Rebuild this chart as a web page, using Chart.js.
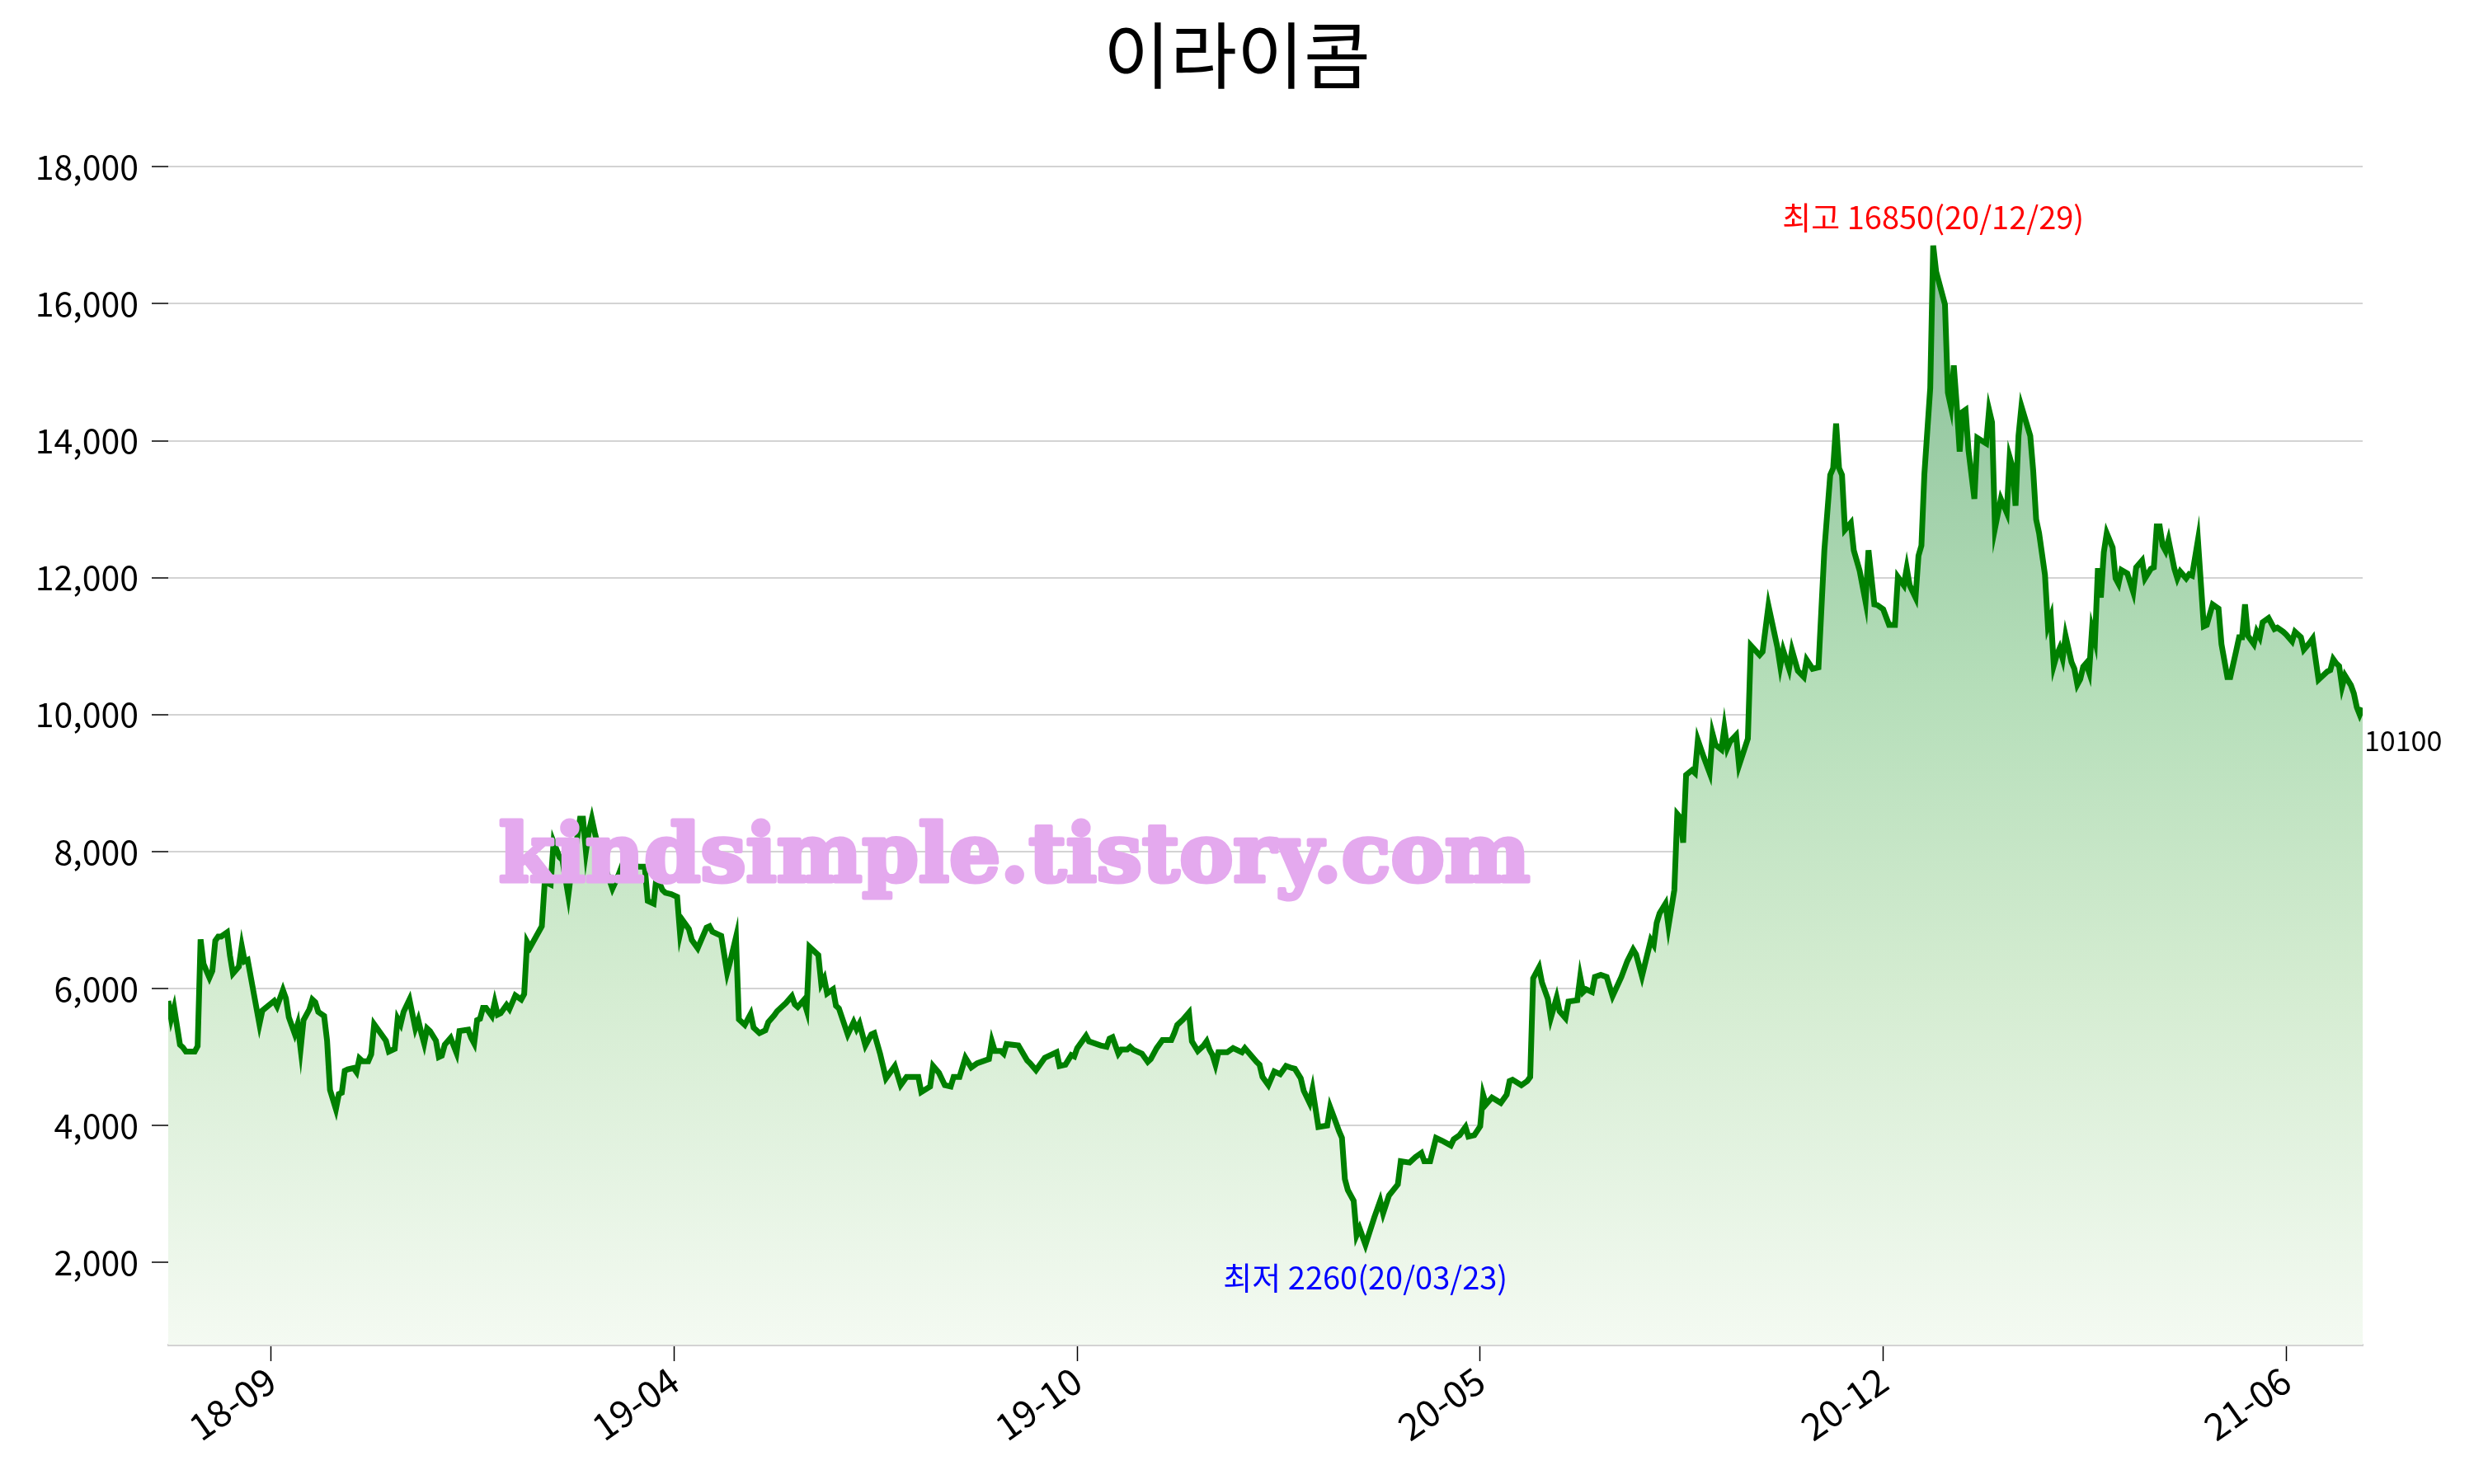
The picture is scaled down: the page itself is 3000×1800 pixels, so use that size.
<!DOCTYPE html>
<html>
<head>
<meta charset="utf-8">
<script src="https://cdn.jsdelivr.net/npm/chart.js@4.4.1/dist/chart.umd.min.js"></script>
<style>
  html, body { margin: 0; background: #fff; }
</style>
</head>
<body>
<canvas id="chart" width="3000" height="1800"></canvas>
<script>
// chart data (trading-day index -> closing price)
const title = '이라이콤';
const days = [0,1,2,4,5,6,9,10,11,12,14,15,16,17,18,20,21,22,24,25,26,27,31,32,36,37,39,40,41,43,44,45,46,48,49,50,51,53,54,55,57,58,59,60,61,63,64,65,66,68,69,70,74,75,77,78,79,80,82,84,85,86,87,88,89,91,92,93,94,96,98,99,102,103,104,105,106,107,108,110,111,112,113,115,116,118,120,121,122,123,127,128,130,131,133,134,136,137,139,140,141,142,143,144,145,146,148,151,153,155,157,160,162,163,165,166,168,169,171,173,174,175,177,178,180,183,184,185,188,190,191,193,194,196,198,199,201,203,204,206,207,210,212,213,214,216,217,218,221,222,223,224,226,227,228,231,233,234,235,237,239,240,242,244,247,249,251,255,256,259,260,262,264,266,267,269,271,273,275,279,280,281,283,284,285,289,292,293,295,298,302,303,305,307,308,309,312,313,317,319,320,321,323,324,326,327,328,331,333,334,336,338,341,342,343,345,347,348,350,352,353,354,355,356,357,360,362,365,366,370,371,372,374,376,378,380,382,383,385,386,388,389,391,394,395,397,398,399,400,401,403,404,405,407,410,411,412,413,415,418,419,422,424,426,427,429,431,433,436,437,439,441,442,444,446,447,448,450,453,455,456,457,460,462,463,464,466,467,469,470,472,473,475,476,479,480,481,482,484,485,487,489,491,494,496,498,499,501,504,505,506,507,509,510,512,513,514,515,516,518,519,520,522,524,525,526,528,529,530,531,533,534,537,538,541,542,544,547,548,549,551,552,554,556,557,559,561,563,565,566,567,568,569,570,572,573,575,577,578,580,581,583,585,587,588,590,591,592,594,595,596,597,599,600,601,604,605,606,607,608,609,610,611,612,614,615,618,619,620,621,623,625,626,627,628,629,630,633,634,635,636,638,639,640,641,642,643,644,645,647,648,649,650,651,652,653,654,655,656,657,658,659,661,662,663,664,666,668,669,671,672,674,675,676,677,678,679,680,682,683,684,686,687,688,690,692,693,695,697,698,700,701,703,704,705,706,707,709,710,711,712,714,716,717,719,720,722,723,725,726,728,729,731,734,735,736,737,738,739,740,742,743,744,745,746];
const prices = [5820,5560,5720,5180,5140,5080,5080,5160,6720,6360,6160,6260,6700,6760,6760,6820,6480,6220,6320,6620,6400,6420,5480,5680,5820,5740,5980,5860,5580,5340,5480,5120,5540,5700,5840,5800,5660,5600,5240,4520,4240,4460,4480,4800,4820,4840,4780,4980,4940,4940,5040,5480,5240,5080,5120,5560,5480,5660,5840,5420,5540,5360,5200,5420,5380,5240,5000,5020,5180,5280,5060,5380,5400,5280,5200,5540,5560,5720,5720,5600,5800,5620,5640,5760,5700,5900,5840,5920,6680,6600,6910,7560,7520,8140,7920,7880,7360,7700,8200,8480,8480,8000,8300,8480,8280,8100,7840,7460,7650,7880,7800,7780,7780,7280,7240,7640,7440,7400,7380,7340,6800,6990,6870,6710,6590,6890,6910,6830,6770,6230,6390,6750,5550,5470,5630,5430,5350,5390,5510,5610,5670,5790,5890,5770,5730,5830,5690,6610,6490,6070,6150,5930,5990,5750,5710,5330,5510,5410,5490,5170,5330,5350,5050,4690,4870,4590,4710,4710,4490,4570,4870,4770,4590,4570,4710,4710,4990,4850,4910,4970,5230,5090,5090,5050,5190,5170,4950,4910,4810,4990,5070,4870,4890,5030,5010,5130,5310,5230,5170,5150,5270,5290,5050,5110,5110,5150,5110,5050,4930,4970,5130,5250,5250,5350,5470,5550,5650,5230,5090,5170,5230,5110,5030,4890,5070,5070,5130,5070,5130,4930,4890,4710,4590,4790,4750,4870,4840,4830,4690,4510,4330,4530,3980,4000,4270,4040,3920,3820,3220,3060,2900,2400,2500,2260,2660,2780,2900,2720,2980,3140,3480,3460,3540,3600,3480,3480,3820,3780,3710,3800,3860,3980,3840,3860,3990,4450,4310,4410,4330,4450,4650,4670,4590,4650,4710,6150,6310,6090,5850,5570,5870,5670,5570,5810,5830,6170,5950,5990,5950,6170,6200,6170,5890,6170,6400,6570,6500,6180,6710,6640,6960,7100,7240,6910,7440,8550,8500,8130,9120,9190,9150,9630,9380,9150,9720,9560,9490,9810,9510,9610,9700,9260,9650,11010,10870,10920,11590,10990,10710,10940,10670,10940,10640,10550,10800,10670,10690,12400,13500,13600,14250,13600,13500,12700,12800,12400,12100,11650,12400,11610,11600,11540,11310,11310,12010,11890,12140,11890,11710,12320,12470,13510,14770,16850,16470,15990,14700,14500,15100,14520,13840,14420,14450,13860,13150,14040,13960,14450,14270,12720,13150,12950,13760,13610,13050,14070,14500,14070,13560,12850,12650,12040,11300,11430,10720,10870,10970,10820,11150,10770,10670,10440,10520,10700,10750,10620,11250,11080,12140,11710,12370,12650,12440,11990,11910,12110,12060,11790,12150,12250,11990,12130,12150,12750,12750,12470,12390,12550,12130,11990,12090,11990,12050,12030,12550,11290,11310,11610,11550,11030,10550,10550,10930,11130,11130,11610,11150,11030,11210,11130,11350,11410,11250,11270,11210,11170,11070,11210,11130,10950,11050,11110,10510,10630,10650,10810,10750,10710,10410,10570,10430,10310,10110,10000,10100];
const tickDays = [35, 172, 309, 446, 583, 720];
const tickLabels = ['18-09', '19-04', '19-10', '20-05', '20-12', '21-06'];
const yTicks = [2000, 4000, 6000, 8000, 10000, 12000, 14000, 16000, 18000];
const maxDate = '20/12/29';
const minDate = '20/03/23';
const watermark = 'kindsimple.tistory.com';

const FONT = "'Noto Sans CJK KR', 'Noto Sans', sans-serif";

const hi = Math.max(...prices);
const lo = Math.min(...prices);
const span = hi - lo;

// text labels for highest / lowest / last price + watermark
const notesPlugin = {
  id: 'notes',
  afterDatasetsDraw(chart) {
    const { ctx, chartArea: a, scales: { x, y } } = chart;
    ctx.save();

    // watermark
    ctx.fillStyle = '#e4a9ee';
    ctx.strokeStyle = '#e4a9ee';
    ctx.lineWidth = 5;
    ctx.lineJoin = 'round';
    ctx.textAlign = 'center';
    ctx.textBaseline = 'middle';
    let fs = 100;
    ctx.font = `bold ${fs}px 'DejaVu Serif', serif`;
    fs = fs * (a.right - a.left) * 0.47 / ctx.measureText(watermark).width;
    ctx.font = `bold ${fs}px 'DejaVu Serif', serif`;
    const wx = a.left + (a.right - a.left) * 0.3856;
    const wy = a.top + (a.bottom - a.top) * 0.596;
    ctx.strokeText(watermark, wx, wy);
    ctx.fillText(watermark, wx, wy);

    ctx.font = `38px ${FONT}`;
    const iHi = prices.indexOf(hi);
    ctx.fillStyle = 'red';
    ctx.fillText(`최고 ${hi}(${maxDate})`, x.getPixelForValue(days[iHi]), y.getPixelForValue(hi) - 34);

    const iLo = prices.indexOf(lo);
    ctx.fillStyle = 'blue';
    ctx.fillText(`최저 ${lo}(${minDate})`, x.getPixelForValue(days[iLo]), y.getPixelForValue(lo) + 40);

    const last = prices[prices.length - 1];
    ctx.fillStyle = '#000';
    ctx.textAlign = 'left';
    ctx.font = `34px ${FONT}`;
    ctx.fillText(String(last), x.getPixelForValue(days[days.length - 1]) + 2, y.getPixelForValue(last) + 40);
    ctx.restore();
  }
};

const ctx = document.getElementById('chart').getContext('2d');
new Chart(ctx, {
  type: 'line',
  data: {
    datasets: [{
      data: days.map((d, i) => ({ x: d, y: prices[i] })),
      borderColor: 'green',
      borderWidth: 7,
      pointRadius: 0,
      tension: 0,
      fill: 'start',
      backgroundColor: c => {
        const a = c.chart.chartArea;
        if (!a) return 'rgba(0,128,0,0.2)';
        const g = c.chart.ctx.createLinearGradient(0, a.top, 0, a.bottom);
        g.addColorStop(0, 'rgb(125,183,143)');
        g.addColorStop(0.45, 'rgb(181,222,185)');
        g.addColorStop(0.7, 'rgb(212,236,209)');
        g.addColorStop(1, 'rgb(244,250,242)');
        return g;
      }
    }]
  },
  options: {
    responsive: false,
    devicePixelRatio: 1,
    animation: false,
    layout: { padding: 0 },
    plugins: {
      legend: { display: false },
      tooltip: { enabled: false },
      title: {
        display: true,
        text: title,
        color: '#000',
        font: { family: FONT, size: 88, weight: 'normal' },
        padding: { top: 14, bottom: 57 }
      }
    },
    scales: {
      x: {
        type: 'linear',
        min: days[0],
        max: days[days.length - 1],
        afterBuildTicks: axis => { axis.ticks = tickDays.map(v => ({ value: v })); },
        afterFit: axis => { axis.height = 169; },
        ticks: {
          autoSkip: false,
          minRotation: 35,
          maxRotation: 35,
          padding: -4,
          color: '#000',
          font: { family: FONT, size: 45 },
          callback: v => tickLabels[tickDays.indexOf(v)]
        },
        grid: { drawOnChartArea: false, tickLength: 20, tickColor: '#000', tickWidth: 1.5 },
        border: { color: '#d3d3d3', width: 3 }
      },
      y: {
        min: lo - span * 0.1,
        max: hi + span * 0.1,
        afterBuildTicks: axis => { axis.ticks = yTicks.map(v => ({ value: v })); },
        afterFit: axis => { axis.width = 204; },
        ticks: {
          color: '#000',
          padding: 16,
          font: { family: FONT, size: 41 },
          callback: v => v.toLocaleString('en-US')
        },
        grid: { color: '#d3d3d3', lineWidth: 2, tickLength: 20, tickColor: '#000', tickWidth: 1.5 },
        border: { display: false }
      },
      // empty right-hand margin so the plot ends where the reference does
      right: {
        type: 'linear',
        position: 'right',
        afterFit: axis => { axis.width = 135; },
        ticks: { display: false },
        grid: { display: false },
        border: { display: false }
      }
    }
  },
  plugins: [notesPlugin]
});
</script>
</body>
</html>
